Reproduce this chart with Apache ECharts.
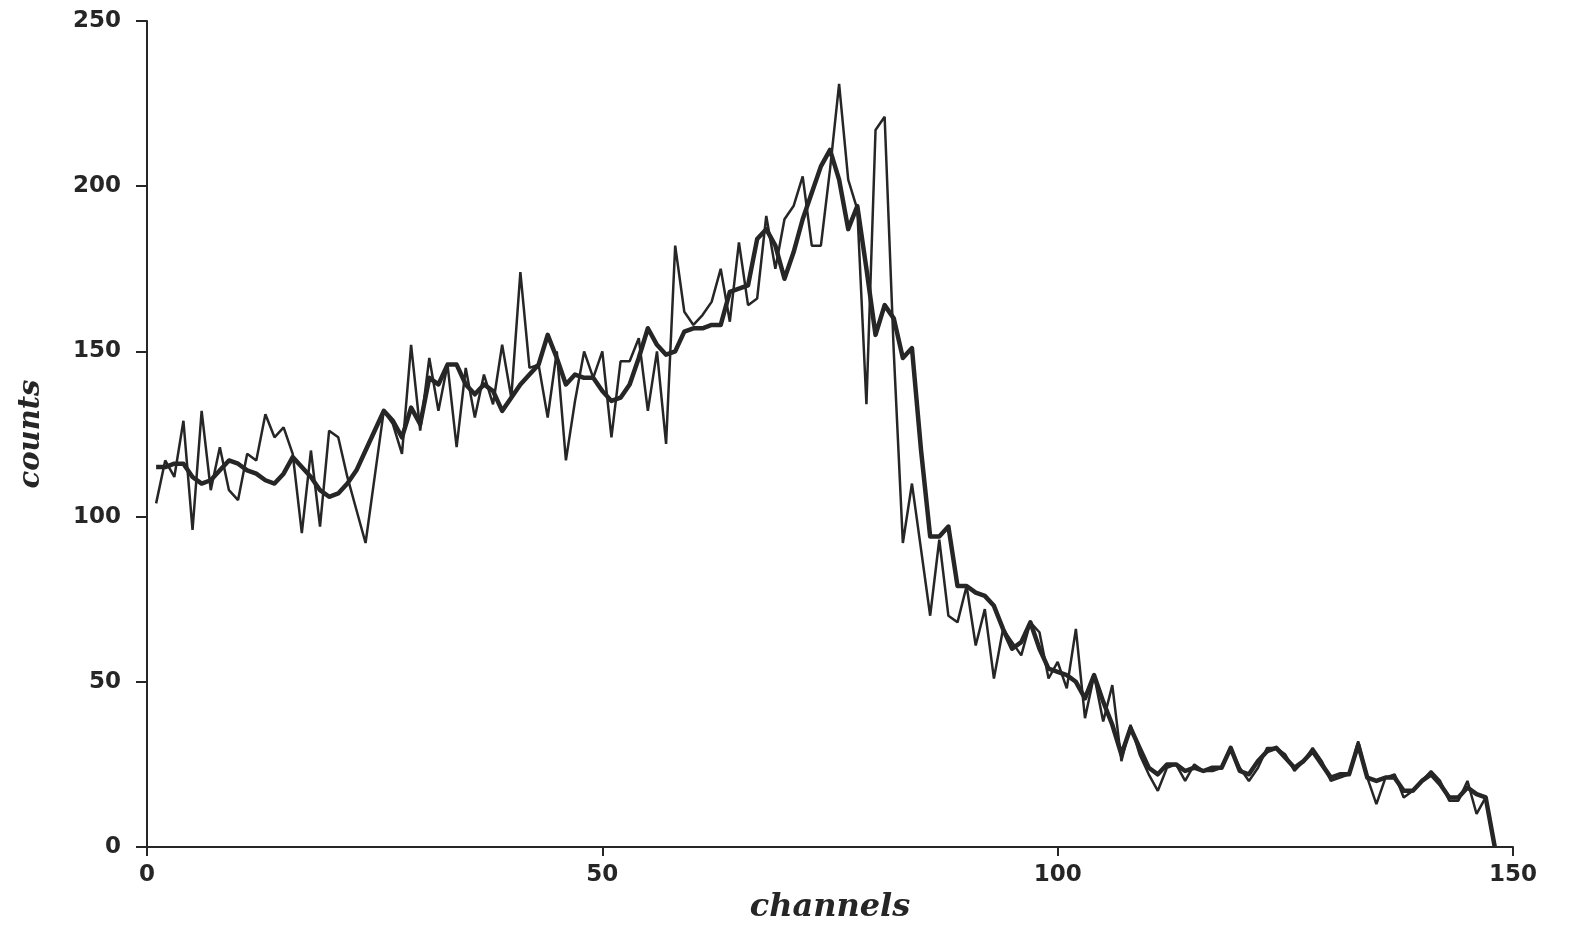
<!DOCTYPE html>
<html>
<head>
<meta charset="utf-8">
<script src="https://cdn.jsdelivr.net/npm/echarts@6/dist/echarts.min.js"></script>
<style>html,body{margin:0;padding:0;background:#fff;}#chart{width:1570px;height:925px;}</style>
</head>
<body>
<div id="chart"></div>
<script>
// channel numbers 1..148
var channels = [];
for (var c = 1; c <= 148; c++) channels.push(c);

// thin noisy trace (counts per channel, channels 1..148)
var thinCounts = [
104,117,112,129,96,132,108,121,108,105,
119,117,131,124,127,119,95,120,97,126,
124,112,102,92,112,132,128,119,152,126,
148,132,146,121,145,130,143,134,152,136,
174,145,146,130,150,117,135,150,142,150,
124,147,147,154,132,150,122,182,162,158,
161,165,175,159,183,164,166,191,175,190,
194,203,182,182,205,231,202,193,134,217,
221,150,92,110,90,70,93,70,68,79,
61,72,51,66,62,58,68,65,51,56,
48,66,39,52,38,49,26,37,28,22,
17,24,25,20,25,23,23,24,30,24,
20,24,30,30,28,23,26,30,26,20,
21,22,32,21,13,21,22,15,17,20,
23,20,14,14,20,10,15,0
];

// thick trace (counts per channel, channels 1..148)
var thickCounts = [
115,115,116,116,112,110,111,114,117,116,
114,113,111,110,113,118,115,112,108,106,
107,110,114,120,126,132,129,124,133,128,
142,140,146,146,140,137,140,138,132,136,
140,143,146,155,148,140,143,142,142,138,
135,136,140,148,157,152,149,150,156,157,
157,158,158,168,169,170,184,187,182,172,
180,190,198,206,211,202,187,194,175,155,
164,160,148,151,120,94,94,97,79,79,
77,76,73,66,60,62,68,60,54,53,
52,50,45,52,44,37,28,36,30,24,
22,25,25,23,24,23,24,24,30,23,
22,26,29,30,27,24,26,29,25,21,
22,22,31,21,20,21,21,17,17,20,
22,19,15,15,18,16,15,0
];

var xTicks = [0, 50, 100, 150];
var yTicks = [0, 50, 100, 150, 200, 250];

function pairs(vals) {
  return channels.map(function (ch, i) { return [ch, vals[i]]; });
}

var ink = '#262626';
var chart = echarts.init(document.getElementById('chart'));
chart.setOption({
  animation: false,
  backgroundColor: '#ffffff',
  grid: { left: 147, right: 57, top: 21, bottom: 78, containLabel: false, outerBoundsMode: 'none' },
  xAxis: {
    type: 'value', min: xTicks[0], max: xTicks[xTicks.length - 1], interval: 50,
    name: 'channels', nameLocation: 'middle', nameGap: 45,
    nameTextStyle: { fontFamily: 'DejaVu Serif', fontStyle: 'italic', fontWeight: 'bold', fontSize: 32, color: ink },
    axisLine: { show: true, lineStyle: { color: ink, width: 2 } },
    axisTick: { show: true, inside: false, length: 9, lineStyle: { color: ink, width: 2 } },
    axisLabel: { margin: 17, fontFamily: 'DejaVu Sans', fontWeight: 'bold', fontSize: 23, color: ink },
    splitLine: { show: false }
  },
  yAxis: {
    type: 'value', min: yTicks[0], max: yTicks[yTicks.length - 1], interval: 50,
    name: 'counts', nameLocation: 'middle', nameGap: 101, nameRotate: 90,
    nameTextStyle: { fontFamily: 'DejaVu Serif', fontStyle: 'italic', fontWeight: 'bold', fontSize: 29, color: ink },
    axisLine: { show: true, lineStyle: { color: ink, width: 2 } },
    axisTick: { show: true, inside: false, length: 11, lineStyle: { color: ink, width: 2 } },
    axisLabel: { margin: 26, fontFamily: 'DejaVu Sans', fontWeight: 'bold', fontSize: 23, color: ink },
    splitLine: { show: false }
  },
  series: [
    {
      name: 'thin', type: 'line', data: pairs(thinCounts), showSymbol: false,
      lineStyle: { color: ink, width: 2.5 }, z: 2
    },
    {
      name: 'thick', type: 'line', data: pairs(thickCounts), showSymbol: false,
      lineStyle: { color: ink, width: 4.5, join: 'round' }, z: 3
    }
  ]
});
</script>
</body>
</html>
